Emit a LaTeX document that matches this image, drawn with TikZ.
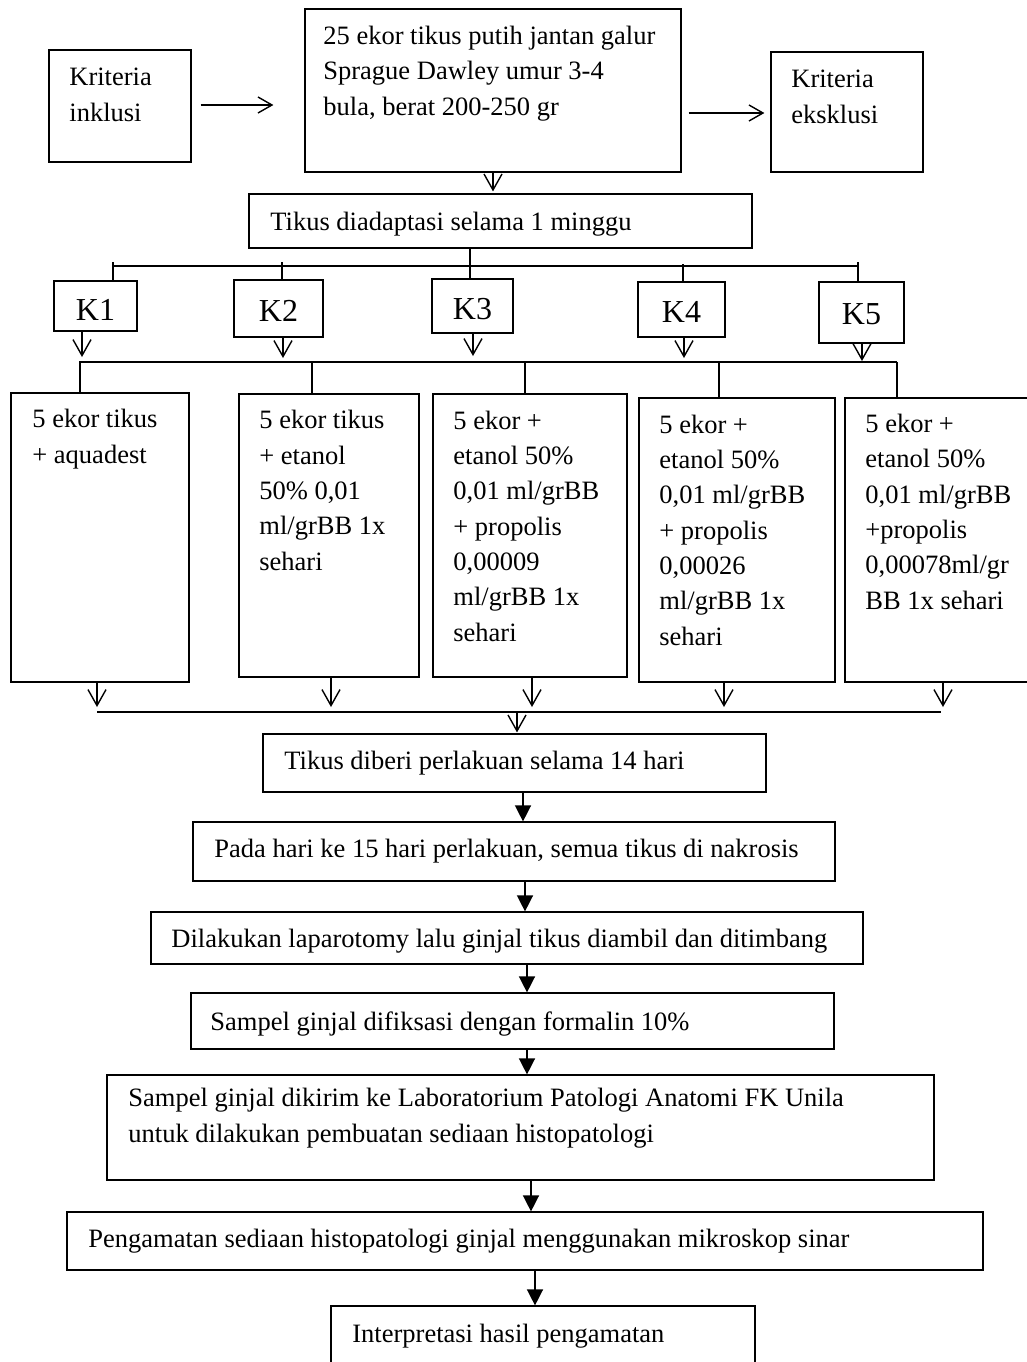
\documentclass[tikz,border=0pt]{standalone}
\usepackage{fontspec}
\setmainfont{Liberation Serif}
\usetikzlibrary{arrows.meta,fit,calc}
\begin{document}
\begin{tikzpicture}[x=0.5pt,y=-0.5pt,
  box/.style={draw, line width=0.6pt, inner sep=0pt},
  txt/.style={font=\fontsize{13.25}{17.65}\selectfont, align=left, inner sep=0pt, anchor=base west},
  klab/.style={font=\fontsize{16}{19}\selectfont, inner sep=0pt},
  conn/.style={line width=0.7pt},
  bus/.style={line width=1.3pt},
  oarr/.style={conn, -{Straight Barb[length=8pt,width=9pt]}},
  harr/.style={conn, -{Straight Barb[length=7pt,width=8pt]}},
  farr/.style={conn, -{Triangle[length=8pt,width=8pt]}},
]
\useasboundingbox (0,0) rectangle (1027,1362);
\clip (0,0) rectangle (1027,1362);
\fill[white] (0,0) rectangle (1027,1362);

% top row (text nodes are anchored at the baseline of their last line)
\node[box, fit={(49,50) (191,162)}] (inkl) {};
\node[txt] (tinkl) at (69,121) {Kriteria\\inklusi};
\node[box, fit={(305,9) (681,172)}] (main) {};
\node[txt] (tmain) at (323,115) {25 ekor tikus putih jantan galur\\Sprague Dawley umur 3-4\\bula, berat 200-250 gr};
\node[box, fit={(771,52) (923,172)}] (eks) {};
\node[txt] (teks) at (791,123) {Kriteria\\eksklusi};
\coordinate (ya) at (0,105);
\coordinate (yb) at (0,113);
\draw[harr, shorten <=4.5pt, shorten >=15.5pt] (inkl.east |- ya) -- (main.west |- ya);
\draw[harr, shorten <=3.5pt, shorten >=3pt] (main.east |- yb) -- (eks.west |- yb);

\node[box, fit={(249,194) (752,248)}] (ad) {};
\node[txt] (tad) at (270,230) {Tikus diadaptasi selama 1 minggu};
\draw[oarr, shorten >=1pt] (main.south -| 493,0) -- (ad.north -| 493,0);

% K boxes
\node[box, fit={(54,281) (137,331)}] (k1) {};
\node[box, fit={(234,280) (323,337)}] (k2) {};
\node[box, fit={(432,279) (513,333)}] (k3) {};
\node[box, fit={(638,282) (725,337)}] (k4) {};
\node[box, fit={(819,282) (904,343)}] (k5) {};
\node[klab] (tk1) at ([yshift=-2pt]k1.center) {K1};
\node[klab] (tk2) at ([yshift=-1pt]k2.center) {K2};
\node[klab] (tk3) at ([yshift=-1.5pt]k3.center) {K3};
\node[klab] (tk4) at ([yshift=-1pt]k4.center) {K4};
\node[klab] (tk5) at ([yshift=-1pt]k5.center) {K5};

\coordinate (tbL) at (113,266);
\coordinate (tbR) at (858,266);
\draw[conn, line width=0.9pt] (tbL) -- (tbR);
\draw[conn] (ad.south -| 470,0) -- (k3.north -| 470,0);
\draw[conn] ([yshift=2pt]tbL) -- (k1.north -| tbL);
\draw[conn] ([yshift=2pt]tbL -| 282,0) -- (k2.north -| 282,0);
\draw[conn] ([yshift=1pt]tbL -| 683,0) -- (k4.north -| 683,0);
\draw[conn] ([yshift=2pt]tbR) -- (k5.north -| tbR);

% middle bus
\coordinate (mbL) at (79,362);
\coordinate (mbR) at (897,362);
\draw[bus] (mbL) -- (mbR);
\draw[oarr, shorten >=2.5pt] (k1.south -| 82,0) -- (mbL -| 82,0);
\draw[oarr, shorten >=2pt] (k2.south -| 283,0) -- (mbL -| 283,0);
\draw[oarr, shorten >=3pt] (k3.south -| 473,0) -- (mbL -| 473,0);
\draw[oarr, shorten >=2pt] (k4.south -| 684,0) -- (mbL -| 684,0);
\draw[oarr, shorten >=0.5pt] (k5.south -| 862,0) -- (mbL -| 862,0);

% detail boxes
\node[box, fit={(11,393) (189,682)}] (b1) {};
\node[box, fit={(239,394) (419,677)}] (b2) {};
\node[box, fit={(433,394) (627,677)}] (b3) {};
\node[box, fit={(639,398) (835,682)}] (b4) {};
\node[box, fit={(845,398) (1060,682)}] (b5) {};
\node[txt] (tb1) at (32,463) {5 ekor tikus\\+ aquadest};
\node[txt] (tb2) at (259,570) {5 ekor tikus\\+ etanol\\50\% 0,01\\ml/grBB 1x\\sehari};
\node[txt] (tb3) at (453,641) {5 ekor +\\etanol 50\%\\0,01 ml/grBB\\+ propolis\\0,00009\\ml/grBB 1x\\sehari};
\node[txt] (tb4) at (659,645) {5 ekor +\\etanol 50\%\\0,01 ml/grBB\\+ propolis\\0,00026\\ml/grBB 1x\\sehari};
\node[txt] (tb5) at (865,609) {5 ekor +\\etanol 50\%\\0,01 ml/grBB\\+propolis\\0,00078ml/gr\\BB 1x sehari};

\draw[conn] (mbL -| 80,0) -- (b1.north -| 80,0);
\draw[conn] (mbL -| 312,0) -- (b2.north -| 312,0);
\draw[conn] (mbL -| 525,0) -- (b3.north -| 525,0);
\draw[conn] (mbL -| 719,0) -- (b4.north -| 719,0);
\draw[conn] (mbR) -- (b5.north -| mbR);

% bottom bus
\coordinate (bbL) at (97,712);
\coordinate (bbR) at (941,712);
\draw[bus] (bbL) -- (bbR);
\draw[oarr, shorten >=2.5pt] (b1.south -| 97,0) -- (bbL -| 97,0);
\draw[oarr, shorten >=2.5pt] (b2.south -| 331,0) -- (bbL -| 331,0);
\draw[oarr, shorten >=2.5pt] (b3.south -| 532,0) -- (bbL -| 532,0);
\draw[oarr, shorten >=2.5pt] (b4.south -| 724,0) -- (bbL -| 724,0);
\draw[oarr, shorten >=2.5pt] (b5.south -| 943,0) -- (bbL -| 943,0);

% lower chain
\node[box, fit={(263,734) (766,792)}] (tr) {};
\node[txt] (ttr) at (284,769) {Tikus diberi perlakuan selama 14 hari};
\draw[oarr, shorten >=0.5pt] (bbL -| 517,0) -- (tr.north -| 517,0);

\node[box, fit={(193,822) (835,881)}] (pada) {};
\node[txt] (tpada) at (214,857) {Pada hari ke 15 hari perlakuan, semua tikus di nakrosis};
\node[box, fit={(151,912) (863,964)}] (dil) {};
\node[txt] (tdil) at (171,947) {Dilakukan laparotomy lalu ginjal tikus diambil dan ditimbang};
\node[box, fit={(191,993) (834,1049)}] (fik) {};
\node[txt] (tfik) at (210,1030) {Sampel ginjal difiksasi dengan formalin 10\%};
\node[box, fit={(107,1075) (934,1180)}] (kir) {};
\node[txt] (tkir) at (128,1142) {Sampel ginjal dikirim ke Laboratorium Patologi Anatomi FK Unila\\untuk dilakukan pembuatan sediaan histopatologi};
\node[box, fit={(67,1212) (983,1270)}] (pen) {};
\node[txt] (tpen) at (88,1247) {Pengamatan sediaan histopatologi ginjal menggunakan mikroskop sinar};
\node[box, fit={(331,1306) (755,1420)}] (int) {};
\node[txt] (tint) at (352,1342) {Interpretasi hasil pengamatan};

\draw[farr] (tr.south -| 523,0) -- (pada.north -| 523,0);
\draw[farr] (pada.south -| 525,0) -- (dil.north -| 525,0);
\draw[farr] (dil.south -| 527,0) -- (fik.north -| 527,0);
\draw[farr] (fik.south -| 527,0) -- (kir.north -| 527,0);
\draw[farr] (kir.south -| 531,0) -- (pen.north -| 531,0);
\draw[farr] (pen.south -| 535,0) -- (int.north -| 535,0);
\end{tikzpicture}
\end{document}
